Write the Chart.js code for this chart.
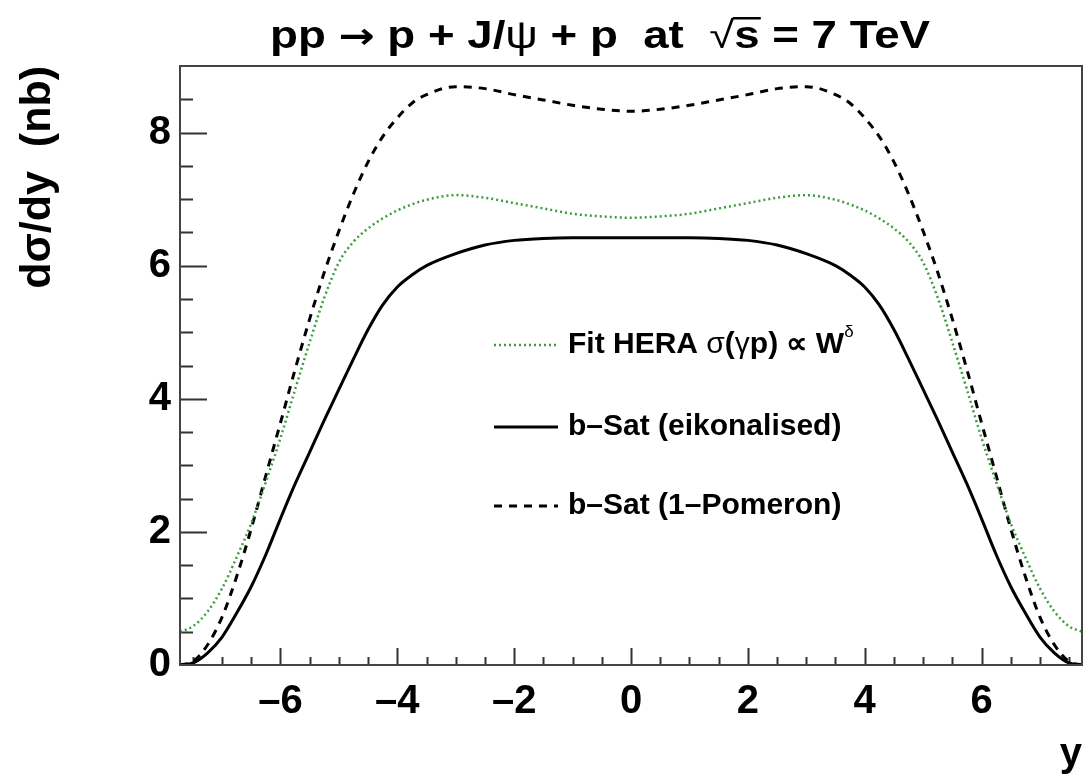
<!DOCTYPE html>
<html>
<head>
<meta charset="utf-8">
<script src="https://cdn.jsdelivr.net/npm/chart.js@4.4.0/dist/chart.umd.min.js"></script>
<style>
  html, body { margin: 0; padding: 0; background: #fff; }
  #wrap { width: 1091px; height: 777px; }
</style>
</head>
<body>
<div id="wrap"><canvas id="grafico"></canvas></div>
<script>
// rapidez y (eixo x)
const rapidez = [-7.72, -7.5, -7.25, -7, -6.75, -6.5, -6.25, -6, -5.75, -5.5, -5.25, -5, -4.75, -4.5, -4.25, -4, -3.75, -3.5, -3, -2.5, -2, -1.5, -1, -0.5,
  0, 0.5, 1, 1.5, 2, 2.5, 3, 3.5, 3.75, 4, 4.25, 4.5, 4.75, 5, 5.25, 5.5, 5.75, 6, 6.25, 6.5, 6.75, 7, 7.25, 7.5, 7.72];

// dsigma/dy (nb)
const fitHera = [0.5, 0.58, 0.8, 1.15, 1.62, 2.13, 2.75, 3.41, 4.14, 4.85, 5.52, 6.05, 6.36, 6.56, 6.71, 6.83, 6.92, 6.99, 7.06, 7.02, 6.94, 6.86, 6.78, 6.74,
  6.72, 6.74, 6.78, 6.86, 6.94, 7.02, 7.06, 6.99, 6.92, 6.83, 6.71, 6.56, 6.36, 6.05, 5.52, 4.85, 4.14, 3.41, 2.75, 2.13, 1.62, 1.15, 0.8, 0.58, 0.5];
const bSatEik = [0, 0.03, 0.18, 0.42, 0.78, 1.18, 1.66, 2.2, 2.72, 3.2, 3.68, 4.14, 4.6, 5.04, 5.41, 5.68, 5.86, 6.0, 6.18, 6.31, 6.38, 6.41, 6.42, 6.42,
  6.42, 6.42, 6.42, 6.41, 6.38, 6.31, 6.18, 6.0, 5.86, 5.68, 5.41, 5.04, 4.6, 4.14, 3.68, 3.2, 2.72, 2.2, 1.66, 1.18, 0.78, 0.42, 0.18, 0.03, 0];
const bSatPom = [0, 0.05, 0.3, 0.72, 1.33, 2.05, 2.85, 3.64, 4.44, 5.2, 5.9, 6.52, 7.08, 7.56, 7.94, 8.22, 8.44, 8.57, 8.69, 8.66, 8.57, 8.49, 8.41, 8.35,
  8.32, 8.35, 8.41, 8.49, 8.57, 8.66, 8.69, 8.57, 8.44, 8.22, 7.94, 7.56, 7.08, 6.52, 5.9, 5.2, 4.44, 3.64, 2.85, 2.05, 1.33, 0.72, 0.3, 0.05, 0];

const ticksX = [-6, -4, -2, 0, 2, 4, 6];
const ticksY = [0, 2, 4, 6, 8];

const fonte = '"Liberation Sans", Arial, sans-serif';
const verde = '#3c9c3c';

const pontos = (vals) => rapidez.map((r, i) => ({ x: r, y: vals[i] }));

// ticks para dentro, estilo ROOT, e a moldura
const moldura = {
  id: 'moldura',
  beforeDatasetsDraw(chart) {
    const { ctx, chartArea: a, scales: { x, y } } = chart;
    ctx.save();
    ctx.strokeStyle = '#333';
    ctx.lineWidth = 2;
    ctx.beginPath();
    for (let v = -7.5; v <= 7.5; v += 0.5) {
      const px = Math.round(x.getPixelForValue(v)) + 0.5;
      const len = ticksX.includes(v) ? 17 : 8;
      ctx.moveTo(px, a.bottom);
      ctx.lineTo(px, a.bottom - len);
    }
    for (let v = 0.5; v <= 8.5; v += 0.5) {
      const py = Math.round(y.getPixelForValue(v)) + 0.5;
      const len = ticksY.includes(v) ? 27 : 13;
      ctx.moveTo(a.left, py);
      ctx.lineTo(a.left + len, py);
    }
    ctx.stroke();
    ctx.restore();
  },
  afterDatasetsDraw(chart) {
    const { ctx, chartArea: a } = chart;
    ctx.save();
    ctx.strokeStyle = '#444';
    ctx.lineWidth = 2;
    ctx.strokeRect(a.left, a.top, a.right - a.left, a.bottom - a.top);
    ctx.restore();
  }
};

function escreverPartes(ctx, partes, x, y) {
  let cx = x;
  partes.forEach(p => {
    ctx.font = p.f;
    const dy = p.sobe || 0;
    ctx.fillText(p.t, cx, y - dy);
    const w = ctx.measureText(p.t).width;
    if (p.barra) {
      ctx.fillRect(cx - 1, y - p.barra, w + 2, 2.5);
    }
    cx += w;
  });
  return cx - x;
}

function larguraPartes(ctx, partes) {
  let w = 0;
  partes.forEach(p => { ctx.font = p.f; w += ctx.measureText(p.t).width; });
  return w;
}

const titulo = {
  id: 'titulo',
  afterDraw(chart) {
    const { ctx } = chart;
    const b = 'bold 38px ' + fonte;
    const n = '38px ' + fonte;
    const partes = [
      { t: 'pp ', f: b },
      { t: '\u2192', f: 'bold 36px "DejaVu Sans"' },
      { t: ' p + J/', f: b },
      { t: '\u03c8', f: n },
      { t: ' + p  at  ', f: b },
      { t: '\u221a', f: n },
      { t: 's', f: b, barra: 31 },
      { t: ' = 7 TeV', f: b }
    ];
    ctx.save();
    ctx.fillStyle = '#000';
    ctx.textBaseline = 'alphabetic';
    ctx.textAlign = 'left';
    // o original aparece esticado na horizontal
    const w = larguraPartes(ctx, partes);
    const sx = 660 / w;
    ctx.translate(270, 48);
    ctx.scale(sx, 1);
    escreverPartes(ctx, partes, 0, 0);
    ctx.restore();
  }
};

const legenda = {
  id: 'legenda',
  afterDraw(chart) {
    const { ctx } = chart;
    const b = 'bold 30px ' + fonte;
    const n = '30px ' + fonte;
    const linhas = [
      [{ t: 'Fit HERA ', f: b }, { t: '\u03c3', f: n }, { t: '(', f: b }, { t: '\u03b3', f: n }, { t: 'p) \u221d W', f: b }, { t: '\u03b4', f: '17px ' + fonte, sobe: 13 }],
      [{ t: 'b\u2013Sat (eikonalised)', f: b }],
      [{ t: 'b\u2013Sat (1\u2013Pomeron)', f: b }]
    ];
    const ys = [345, 427, 506];
    ctx.save();
    chart.data.datasets.forEach((ds, i) => {
      const yy = ys[i];
      ctx.strokeStyle = ds.borderColor;
      ctx.lineWidth = ds.borderWidth;
      ctx.setLineDash(ds.borderDash || []);
      ctx.beginPath();
      ctx.moveTo(494, yy);
      ctx.lineTo(558, yy);
      ctx.stroke();
      ctx.setLineDash([]);
      ctx.fillStyle = '#000';
      ctx.textBaseline = 'middle';
      ctx.textAlign = 'left';
      escreverPartes(ctx, linhas[i], 568, yy);
    });
    ctx.restore();
  }
};

new Chart(document.getElementById('grafico'), {
  type: 'line',
  data: {
    datasets: [
      {
        label: 'Fit HERA',
        data: pontos(fitHera),
        borderColor: verde,
        borderWidth: 2.5,
        borderDash: [2, 3],
        pointRadius: 0,
        cubicInterpolationMode: 'monotone'
      },
      {
        label: 'b-Sat (eikonalised)',
        data: pontos(bSatEik),
        borderColor: '#000',
        borderWidth: 3,
        pointRadius: 0,
        cubicInterpolationMode: 'monotone'
      },
      {
        label: 'b-Sat (1-Pomeron)',
        data: pontos(bSatPom),
        borderColor: '#000',
        borderWidth: 3,
        borderDash: [8, 7],
        pointRadius: 0,
        cubicInterpolationMode: 'monotone'
      }
    ]
  },
  options: {
    responsive: true,
    maintainAspectRatio: false,
    animation: false,
    layout: { padding: { left: 0, right: 9, top: 66, bottom: 0 } },
    plugins: {
      legend: { display: false },
      tooltip: { enabled: false }
    },
    scales: {
      x: {
        type: 'linear',
        min: -7.72,
        max: 7.72,
        afterFit: s => { s.height = 112; },
        afterBuildTicks: s => { s.ticks = ticksX.map(v => ({ value: v })); },
        grid: { display: false, drawTicks: false },
        border: { display: false },
        ticks: {
          padding: 13,
          maxRotation: 0,
          autoSkip: false,
          color: '#000',
          font: { family: fonte, size: 40, weight: 'bold' },
          callback: v => (v < 0 ? '\u2013' + Math.abs(v) : String(v))
        },
        title: {
          display: true,
          text: 'y',
          align: 'end',
          color: '#000',
          padding: { top: 0, bottom: -2 },
          font: { family: fonte, size: 40, weight: 'bold' }
        }
      },
      y: {
        min: 0,
        max: 9,
        afterFit: s => { s.width = 180; },
        afterBuildTicks: s => { s.ticks = ticksY.map(v => ({ value: v })); },
        grid: { display: false, drawTicks: false },
        border: { display: false },
        ticks: {
          padding: 9,
          color: '#000',
          font: { family: fonte, size: 40, weight: 'bold' }
        },
        title: {
          display: true,
          text: 'd\u03c3/dy  (nb)',
          align: 'end',
          color: '#000',
          padding: { top: 12, bottom: 0 },
          font: { family: fonte, size: 43, weight: 'bold' }
        }
      }
    }
  },
  plugins: [moldura, titulo, legenda]
});
</script>
</body>
</html>
